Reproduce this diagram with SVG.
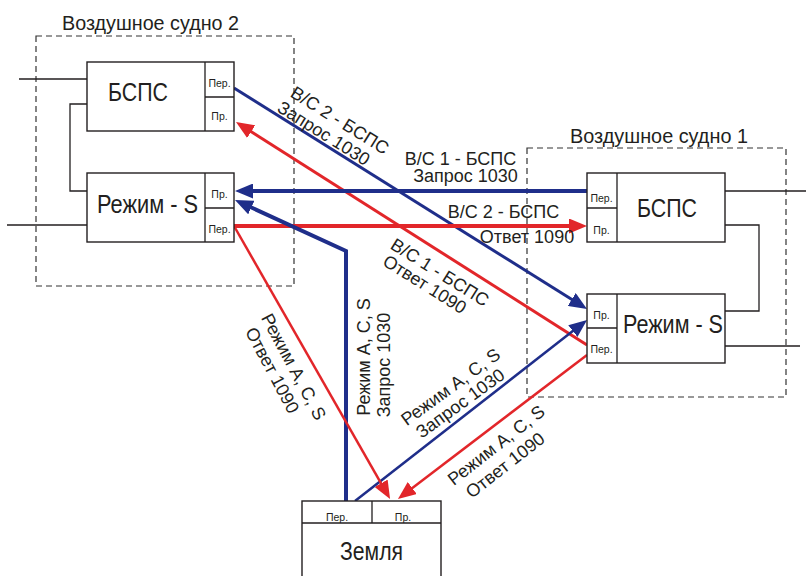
<svg xmlns="http://www.w3.org/2000/svg" width="806" height="576" viewBox="0 0 806 576">
<style>
text{font-family:"Liberation Sans",Arial,sans-serif;fill:#231f20}
.frame{fill:none;stroke:#333;stroke-width:1.2;stroke-dasharray:6,4}
.box{fill:#fff;stroke:#231f20;stroke-width:1.4}
.thin{fill:none;stroke:#231f20;stroke-width:1.3}
.title{font-size:20px}
.big{font-size:26px;text-anchor:middle}
.port{font-size:10.5px;text-anchor:middle}
.lbl{font-size:18px;text-anchor:middle}
.blue{fill:none;stroke:#1f2e8a;marker-end:url(#ab)}
.red{fill:none;stroke:#e2262a;marker-end:url(#ar)}
</style>
<defs>
<marker id="ab" viewBox="0 0 18 15" refX="4" refY="7.5" markerWidth="18" markerHeight="15" markerUnits="userSpaceOnUse" orient="auto"><path d="M0,0 L18,7.5 L0,15 Z" fill="#1f2e8a"/></marker>
<marker id="ar" viewBox="0 0 18 15" refX="4" refY="7.5" markerWidth="18" markerHeight="15" markerUnits="userSpaceOnUse" orient="auto"><path d="M0,0 L18,7.5 L0,15 Z" fill="#e2262a"/></marker>
</defs>
<rect width="806" height="576" fill="#fff"/>

<g id="aircraft2">
<rect class="frame" x="36" y="36" width="258" height="250"/>
<text class="title" x="62" y="30" textLength="177" lengthAdjust="spacingAndGlyphs">Воздушное судно 2</text>
<path class="thin" d="M19,79 H87 M87,104 H70 V191 H87 M7,225 H87"/>
</g>
<g id="aircraft1">
<rect class="frame" x="527" y="148" width="259" height="249"/>
<text class="title" x="570" y="143" textLength="178" lengthAdjust="spacingAndGlyphs">Воздушное судно 1</text>
<path class="thin" d="M725,191 H806 M725,225 H759 V311 H725 M725,346 H800"/>
</g>

<g id="connectors">
<g id="c1"><path class="blue" stroke-width="3" d="M234,88 L575.1,301.6"/>
<text class="lbl" transform="translate(336.6,125.5) rotate(32)">В/С 2 - БСПС</text>
<text class="lbl" transform="translate(320.5,138.5) rotate(32)">Запрос 1030</text></g>
<g id="c2"><path class="red" stroke-width="3" d="M587,345 L247.8,129.5"/>
<text class="lbl" transform="translate(436.6,277.5) rotate(32)">В/С 1 - БСПС</text>
<text class="lbl" transform="translate(421.6,289.5) rotate(32)">Ответ 1090</text></g>
<g id="c3"><path class="blue" stroke-width="4" d="M587,191 H249"/>
<text class="lbl" x="460.5" y="165">В/С 1 - БСПС</text>
<text class="lbl" x="465.5" y="182">Запрос 1030</text></g>
<g id="c4"><path class="red" stroke-width="4" d="M234,226 H573"/>
<text class="lbl" x="503.5" y="218">В/С 2 - БСПС</text>
<text class="lbl" x="527" y="243">Ответ 1090</text></g>
<g id="c5"><path class="blue" stroke-width="4" d="M346,501 V251 L247.7,205.8"/>
<text class="lbl" transform="translate(370,357) rotate(-90)">Режим A, C, S</text>
<text class="lbl" transform="translate(390,365) rotate(-90)">Запрос 1030</text></g>
<g id="c6"><path class="blue" stroke-width="2.5" d="M355,501 L576,328.6"/>
<text class="lbl" transform="translate(454.3,391.8) rotate(-36)">Режим A, C, S</text>
<text class="lbl" transform="translate(463.8,408.3) rotate(-36)">Запрос 1030</text></g>
<g id="c7"><path class="red" stroke-width="2.5" d="M234,226 L383.1,486.8"/>
<text class="lbl" transform="translate(288.3,369.6) rotate(62)">Режим A, C, S</text>
<text class="lbl" transform="translate(266.8,373.1) rotate(62)">Ответ 1090</text></g>
<g id="c8"><path class="red" stroke-width="2.5" d="M587,355 L409.1,490.5"/>
<text class="lbl" transform="translate(500,450) rotate(-38)">Режим A, C, S</text>
<text class="lbl" transform="translate(509,470) rotate(-38)">Ответ 1090</text></g>
</g>

<g id="bsps2">
<rect class="box" x="87" y="62" width="147" height="69"/>
<path class="thin" d="M205,62 V131 M205,97 H234"/>
<text class="big" x="138" y="101" textLength="60" lengthAdjust="spacingAndGlyphs">БСПС</text>
<text class="port" x="219.5" y="87">Пер.</text>
<text class="port" x="219.5" y="120">Пр.</text>
</g>
<g id="modes2">
<rect class="box" x="87" y="173" width="147" height="69"/>
<path class="thin" d="M205,173 V242 M205,208 H234"/>
<text class="big" x="147.5" y="213" textLength="101" lengthAdjust="spacingAndGlyphs">Режим - S</text>
<text class="port" x="219.5" y="198">Пр.</text>
<text class="port" x="219.5" y="232.5">Пер.</text>
</g>
<g id="bsps1">
<rect class="box" x="587" y="173" width="138" height="69"/>
<path class="thin" d="M617,173 V242 M587,208 H617"/>
<text class="big" x="667" y="217" textLength="60" lengthAdjust="spacingAndGlyphs">БСПС</text>
<text class="port" x="601.5" y="202">Пер.</text>
<text class="port" x="601.5" y="234">Пр.</text>
</g>
<g id="modes1">
<rect class="box" x="587" y="294" width="138" height="69"/>
<path class="thin" d="M617,294 V363 M587,328 H617"/>
<text class="big" x="673" y="333" textLength="100" lengthAdjust="spacingAndGlyphs">Режим - S</text>
<text class="port" x="601.5" y="319">Пр.</text>
<text class="port" x="601.5" y="353">Пер.</text>
</g>
<g id="ground">
<rect class="box" x="302" y="501" width="139" height="85"/>
<path class="thin" d="M372,501 V523 M302,523 H441"/>
<text class="big" x="371.5" y="560" font-size="25" textLength="63" lengthAdjust="spacingAndGlyphs">Земля</text>
<text class="port" x="337" y="521">Пер.</text>
<text class="port" x="403" y="521">Пр.</text>
</g>
</svg>
